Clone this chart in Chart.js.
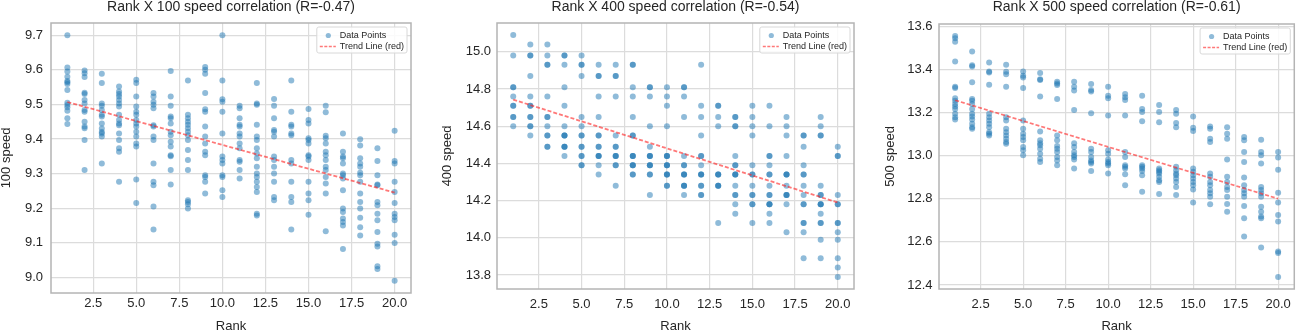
<!DOCTYPE html>
<html>
<head>
<meta charset="utf-8">
<script src="https://cdn.jsdelivr.net/npm/chart.js@4.4.0/dist/chart.umd.min.js"></script>
<style>
html, body { margin: 0; padding: 0; background: #fff; }
#wrap { position: relative; width: 1299px; height: 333px; overflow: hidden; }
canvas { position: absolute; top: 0; }
</style>
</head>
<body>
<div id="wrap">
  <canvas id="c100" width="433" height="333" style="left:0px"></canvas>
  <canvas id="c400" width="435" height="333" style="left:441px"></canvas>
  <canvas id="c500" width="415" height="333" style="left:884px"></canvas>
</div>
<script>
// ---- data ----
const ranks = [1, 2, 3, 4, 5, 6, 7, 8, 9, 10, 11, 12, 13, 14, 15, 16, 17, 18, 19, 20]

// one list of speeds per rank
const speed100 = [
  [9.70, 9.607, 9.595, 9.58, 9.568, 9.564, 9.559, 9.542, 9.505, 9.498, 9.492, 9.482, 9.46, 9.443],
  [9.598, 9.59, 9.579, 9.534, 9.53, 9.513, 9.503, 9.484, 9.479, 9.45, 9.436, 9.431, 9.397, 9.31],
  [9.589, 9.562, 9.503, 9.496, 9.484, 9.47, 9.465, 9.445, 9.43, 9.42, 9.416, 9.407, 9.329],
  [9.552, 9.537, 9.53, 9.523, 9.513, 9.503, 9.494, 9.47, 9.455, 9.445, 9.44, 9.416, 9.397, 9.373, 9.363, 9.276],
  [9.571, 9.562, 9.523, 9.494, 9.479, 9.47, 9.455, 9.445, 9.436, 9.421, 9.407, 9.387, 9.378, 9.283, 9.215],
  [9.533, 9.523, 9.508, 9.499, 9.489, 9.44, 9.436, 9.407, 9.397, 9.329, 9.276, 9.266, 9.205, 9.138],
  [9.597, 9.523, 9.496, 9.465, 9.46, 9.445, 9.421, 9.411, 9.392, 9.378, 9.353, 9.35, 9.31, 9.268],
  [9.569, 9.47, 9.46, 9.45, 9.441, 9.431, 9.421, 9.411, 9.397, 9.368, 9.339, 9.31, 9.223, 9.218, 9.211, 9.199],
  [9.608, 9.60, 9.589, 9.533, 9.486, 9.479, 9.436, 9.407, 9.387, 9.363, 9.353, 9.295, 9.29, 9.276, 9.242],
  [9.70, 9.569, 9.515, 9.508, 9.479, 9.416, 9.349, 9.339, 9.329, 9.295, 9.29, 9.252, 9.232],
  [9.496, 9.489, 9.46, 9.441, 9.436, 9.416, 9.407, 9.387, 9.373, 9.339, 9.334, 9.31, 9.286],
  [9.562, 9.503, 9.499, 9.441, 9.407, 9.397, 9.373, 9.358, 9.344, 9.32, 9.30, 9.29, 9.276, 9.261, 9.247, 9.184, 9.179],
  [9.516, 9.496, 9.46, 9.426, 9.421, 9.407, 9.349, 9.339, 9.32, 9.30, 9.276, 9.232, 9.223],
  [9.569, 9.479, 9.441, 9.436, 9.416, 9.411, 9.339, 9.329, 9.276, 9.232, 9.218, 9.138],
  [9.487, 9.455, 9.445, 9.402, 9.397, 9.387, 9.353, 9.349, 9.339, 9.276, 9.242, 9.223, 9.181],
  [9.496, 9.477, 9.409, 9.402, 9.387, 9.363, 9.353, 9.339, 9.32, 9.31, 9.29, 9.271, 9.242, 9.133],
  [9.416, 9.363, 9.349, 9.344, 9.329, 9.30, 9.295, 9.286, 9.252, 9.199, 9.189, 9.17, 9.16, 9.15, 9.082],
  [9.399, 9.381, 9.344, 9.329, 9.32, 9.302, 9.295, 9.276, 9.242, 9.218, 9.199, 9.172, 9.145, 9.121],
  [9.373, 9.336, 9.295, 9.268, 9.266, 9.218, 9.208, 9.184, 9.165, 9.131, 9.097, 9.089, 9.032, 9.024],
  [9.424, 9.336, 9.329, 9.276, 9.247, 9.215, 9.184, 9.174, 9.165, 9.123, 9.099, 8.99]
]

const speed400 = [
  [15.09, 14.98, 14.81, 14.81, 14.76, 14.71, 14.71, 14.65, 14.65, 14.60],
  [15.04, 14.98, 14.98, 14.87, 14.76, 14.71, 14.71, 14.65, 14.65, 14.60, 14.60, 14.55],
  [15.04, 14.98, 14.93, 14.93, 14.76, 14.65, 14.65, 14.60, 14.55, 14.55, 14.49, 14.49],
  [14.98, 14.98, 14.93, 14.81, 14.71, 14.60, 14.55, 14.55, 14.55, 14.49, 14.49, 14.49, 14.44],
  [14.98, 14.93, 14.93, 14.87, 14.65, 14.60, 14.55, 14.55, 14.49, 14.49, 14.44, 14.44, 14.39, 14.39],
  [14.93, 14.87, 14.87, 14.76, 14.65, 14.55, 14.55, 14.49, 14.49, 14.44, 14.44, 14.44, 14.39, 14.34],
  [14.93, 14.87, 14.87, 14.76, 14.55, 14.49, 14.49, 14.44, 14.44, 14.44, 14.39, 14.39, 14.28],
  [14.93, 14.93, 14.81, 14.76, 14.65, 14.55, 14.55, 14.44, 14.44, 14.44, 14.39, 14.39, 14.39, 14.34, 14.34],
  [14.81, 14.81, 14.76, 14.60, 14.49, 14.44, 14.44, 14.44, 14.39, 14.39, 14.39, 14.34, 14.34, 14.23],
  [14.81, 14.76, 14.71, 14.60, 14.44, 14.44, 14.44, 14.39, 14.39, 14.39, 14.34, 14.34, 14.34, 14.28, 14.28],
  [14.81, 14.81, 14.76, 14.65, 14.44, 14.39, 14.39, 14.34, 14.34, 14.34, 14.28, 14.28, 14.28, 14.23],
  [14.93, 14.71, 14.65, 14.55, 14.44, 14.44, 14.39, 14.34, 14.34, 14.34, 14.28, 14.28, 14.23, 14.23],
  [14.71, 14.71, 14.65, 14.60, 14.34, 14.34, 14.34, 14.28, 14.28, 14.28, 14.08],
  [14.65, 14.65, 14.60, 14.60, 14.44, 14.39, 14.39, 14.34, 14.34, 14.34, 14.28, 14.23, 14.23, 14.18, 14.13],
  [14.71, 14.65, 14.60, 14.55, 14.39, 14.34, 14.34, 14.28, 14.23, 14.23, 14.18, 14.18, 14.08],
  [14.71, 14.60, 14.44, 14.44, 14.39, 14.34, 14.34, 14.28, 14.23, 14.23, 14.18, 14.18, 14.18, 14.13, 14.08],
  [14.65, 14.60, 14.55, 14.44, 14.34, 14.34, 14.34, 14.28, 14.23, 14.23, 14.23, 14.18, 14.03],
  [14.55, 14.55, 14.49, 14.39, 14.34, 14.34, 14.28, 14.23, 14.18, 14.18, 14.08, 14.08, 14.03, 13.89],
  [14.65, 14.60, 14.55, 14.55, 14.28, 14.23, 14.23, 14.18, 14.18, 14.18, 14.13, 14.08, 14.08, 13.99, 13.89],
  [14.49, 14.44, 14.44, 14.23, 14.18, 14.18, 14.08, 14.08, 14.03, 13.99, 13.89, 13.84, 13.79]
]

const speed500 = [
  [13.555, 13.545, 13.529, 13.437, 13.32, 13.314, 13.266, 13.255, 13.24, 13.228, 13.217, 13.194, 13.178, 13.168],
  [13.483, 13.42, 13.414, 13.34, 13.263, 13.255, 13.24, 13.217, 13.194, 13.182, 13.168, 13.148, 13.132, 13.125],
  [13.432, 13.391, 13.386, 13.329, 13.194, 13.178, 13.163, 13.148, 13.132, 13.109, 13.102, 13.094],
  [13.422, 13.389, 13.378, 13.32, 13.178, 13.163, 13.125, 13.109, 13.094, 13.078, 13.063, 13.055],
  [13.391, 13.371, 13.363, 13.314, 13.163, 13.125, 13.102, 13.086, 13.071, 13.04, 13.025, 13.002],
  [13.383, 13.355, 13.351, 13.274, 13.112, 13.071, 13.058, 13.048, 13.032, 13.009, 12.986, 12.971],
  [13.343, 13.335, 13.328, 13.263, 13.094, 13.071, 13.045, 13.032, 13.017, 12.994, 12.978, 12.955],
  [13.343, 13.32, 13.302, 13.212, 13.058, 13.04, 13.017, 13.002, 12.994, 12.982, 12.94],
  [13.332, 13.305, 13.298, 13.197, 13.032, 13.017, 12.994, 12.978, 12.971, 12.963, 12.929],
  [13.32, 13.278, 13.266, 13.186, 13.025, 13.009, 12.982, 12.971, 12.963, 12.955, 12.917],
  [13.286, 13.271, 13.258, 13.186, 13.017, 12.994, 12.955, 12.948, 12.94, 12.914, 12.863],
  [13.278, 13.217, 13.202, 13.16, 12.955, 12.948, 12.94, 12.929, 12.909, 12.832],
  [13.235, 13.202, 13.155, 12.94, 12.932, 12.925, 12.917, 12.902, 12.886, 12.878, 12.822],
  [13.212, 13.194, 13.151, 13.132, 12.948, 12.932, 12.917, 12.909, 12.894, 12.878, 12.855, 12.817],
  [13.182, 13.129, 13.114, 12.94, 12.925, 12.909, 12.894, 12.878, 12.863, 12.843, 12.782],
  [13.135, 13.125, 13.078, 13.063, 12.917, 12.902, 12.878, 12.863, 12.84, 12.825, 12.809, 12.774],
  [13.132, 13.102, 13.078, 12.982, 12.902, 12.878, 12.855, 12.84, 12.809, 12.775, 12.74],
  [13.086, 13.071, 13.017, 12.971, 12.898, 12.863, 12.84, 12.825, 12.809, 12.766, 12.709, 12.625],
  [13.074, 13.017, 13.002, 12.963, 12.855, 12.84, 12.825, 12.809, 12.763, 12.74, 12.717, 12.709, 12.574],
  [13.017, 12.991, 12.935, 12.828, 12.782, 12.725, 12.694, 12.555, 12.548, 12.437]
]

// trend line values at rank 1 and rank 20
const trendRanks = [1, 20]
const trend100 = [9.507, 9.245]
const trend400 = [14.743, 14.19]
const trend500 = [13.257, 12.80]

const titles = ['Rank X 100 speed correlation (R=-0.47)', 'Rank X 400 speed correlation (R=-0.54)', 'Rank X 500 speed correlation (R=-0.61)']
const yLabels = ['100 speed', '400 speed', '500 speed']
const yTickStep = [0.1, 0.2, 0.2]
const xTickStep = 2.5

// ---- drawing ----
Chart.defaults.font.family = '"Liberation Sans", Arial, sans-serif'
Chart.defaults.color = '#262626'

const textColor = '#262626'
const gridColor = '#dcdcdc'
const pointColor = 'rgba(31, 119, 180, 0.5)'
const trendColor = 'rgba(255, 30, 30, 0.6)'

// frame round the axes + legend in the upper right corner
const framePlugin = {
    id: 'frameLegend',
    afterDraw(chart) {
        const {ctx, chartArea: a} = chart
        ctx.save()
        ctx.strokeStyle = '#b4b4b4'
        ctx.lineWidth = 1.5
        ctx.strokeRect(a.left, a.top, a.right - a.left, a.bottom - a.top)

        ctx.font = '9px "Liberation Sans", Arial, sans-serif'
        const w = 26 + ctx.measureText('Trend Line (red)').width
        const h = 26
        const left = a.right - 4 - w
        const top = a.top + 4
        ctx.fillStyle = 'rgba(255,255,255,0.85)'
        ctx.strokeStyle = '#d8d8d8'
        ctx.lineWidth = 1
        ctx.beginPath()
        if (ctx.roundRect) ctx.roundRect(left, top, w, h, 2)
        else ctx.rect(left, top, w, h)
        ctx.fill()
        ctx.stroke()

        const row1 = top + 8.5
        const row2 = top + 19.5
        ctx.fillStyle = pointColor
        ctx.beginPath()
        ctx.arc(left + 11.5, row1, 2.6, 0, Math.PI * 2)
        ctx.fill()

        ctx.strokeStyle = trendColor
        ctx.lineWidth = 1.6
        ctx.setLineDash([3, 1.5])
        ctx.beginPath()
        ctx.moveTo(left + 3, row2)
        ctx.lineTo(left + 19, row2)
        ctx.stroke()
        ctx.setLineDash([])

        ctx.fillStyle = textColor
        ctx.textBaseline = 'middle'
        ctx.textAlign = 'left'
        ctx.fillText('Data Points', left + 23, row1)
        ctx.fillText('Trend Line (red)', left + 23, row2)
        ctx.restore()
    }
}

const panels = [
    {id: 'c100', speeds: speed100, trend: trend100, yW: 51, yPad: 8, right: 22, titlePad: 9, xH: 40, xPad: 3},
    {id: 'c400', speeds: speed400, trend: trend400, yW: 56, yPad: 6, right: 22, titlePad: 9, xH: 44, xPad: 8},
    {id: 'c500', speeds: speed500, trend: trend500, yW: 55, yPad: 6.5, right: 3, titlePad: 10, xH: 44, xPad: 8},
]

// matplotlib-like 5% margins
const withMargin = (lo, hi) => [lo - (hi - lo) * 0.05, hi + (hi - lo) * 0.05]

panels.forEach((p, i) => {
    const points = []
    p.speeds.forEach((list, r) => list.forEach(v => points.push({x: ranks[r], y: v})))
    const trendPts = trendRanks.map((r, k) => ({x: r, y: p.trend[k]}))

    const allY = p.speeds.flat()
    const [yMin, yMax] = withMargin(Math.min(...allY), Math.max(...allY))
    const [xMin, xMax] = withMargin(Math.min(...ranks), Math.max(...ranks))

    new Chart(document.getElementById(p.id), {
        type: 'scatter',
        data: {
            datasets: [
                {
                    label: 'Trend Line (red)',
                    data: trendPts,
                    showLine: true,
                    borderColor: trendColor,
                    borderWidth: 1.8,
                    borderDash: [4, 2],
                    pointRadius: 0,
                    order: 0,
                },
                {
                    label: 'Data Points',
                    data: points,
                    backgroundColor: pointColor,
                    borderWidth: 0,
                    pointRadius: 3,
                    order: 1,
                },
            ]
        },
        options: {
            responsive: false,
            animation: false,
            devicePixelRatio: 1,
            layout: {padding: {left: 0, right: p.right, top: 0, bottom: 0}},
            plugins: {
                legend: {display: false},
                tooltip: {enabled: false},
                title: {
                    display: true,
                    text: titles[i],
                    fullSize: false,
                    color: textColor,
                    font: {size: 14, weight: 'normal', lineHeight: 1},
                    padding: {top: 0, bottom: p.titlePad},
                },
            },
            scales: {
                x: {
                    type: 'linear',
                    min: xMin,
                    max: xMax,
                    border: {display: false},
                    grid: {color: gridColor, lineWidth: 1.2, drawTicks: false},
                    ticks: {
                        stepSize: xTickStep,
                        includeBounds: false,
                        padding: p.xPad,
                        color: textColor,
                        font: {size: 13},
                        maxRotation: 0,
                        autoSkip: false,
                        callback: v => v.toFixed(1),
                    },
                    title: {display: true, text: 'Rank', color: textColor, font: {size: 13, lineHeight: 1}, padding: 0},
                    afterFit: s => { s.height = p.xH },
                },
                y: {
                    type: 'linear',
                    min: yMin,
                    max: yMax,
                    border: {display: false},
                    grid: {color: gridColor, lineWidth: 1.2, drawTicks: false},
                    ticks: {
                        stepSize: yTickStep[i],
                        includeBounds: false,
                        padding: p.yPad,
                        color: textColor,
                        font: {size: 13},
                        autoSkip: false,
                        callback: v => v.toFixed(1),
                    },
                    title: {display: true, text: yLabels[i], color: textColor, font: {size: 13, lineHeight: 1}, padding: 0},
                    afterFit: s => { s.width = p.yW },
                },
            },
        },
        plugins: [framePlugin],
    })
})
</script>
</body>
</html>
